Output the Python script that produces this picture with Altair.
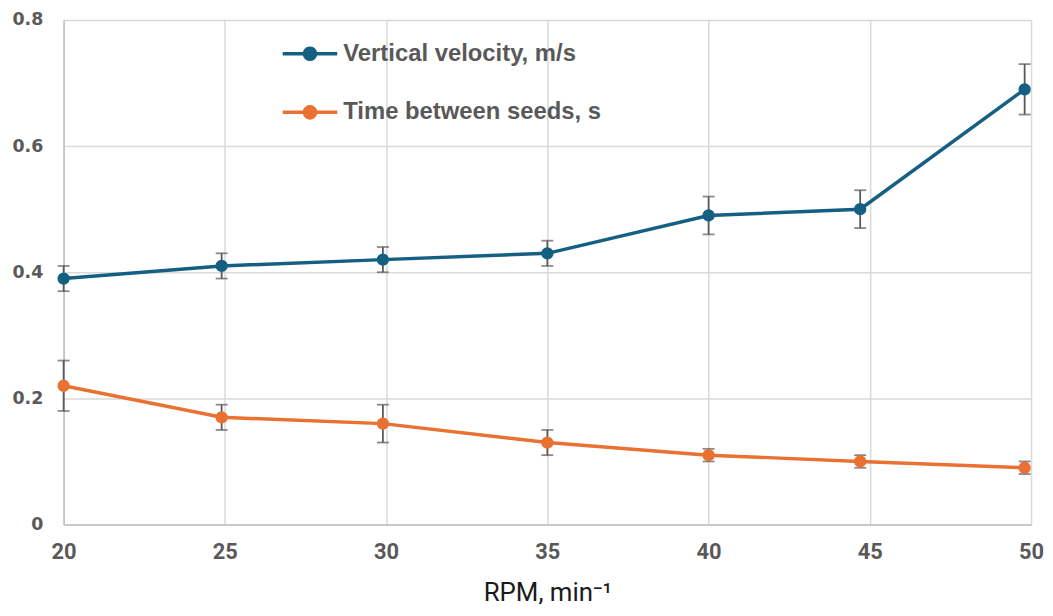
import math
import altair as alt
import pandas as pd

rpm = [20, 24.9, 29.9, 35, 40, 44.7, 49.8]
velocity = [0.39, 0.41, 0.42, 0.43, 0.49, 0.50, 0.69]
velocity_err = [0.02, 0.02, 0.02, 0.02, 0.03, 0.03, 0.04]
time_seeds = [0.22, 0.17, 0.16, 0.13, 0.11, 0.10, 0.09]
time_err = [0.04, 0.02, 0.03, 0.02, 0.01, 0.01, 0.01]
series_names = ["Vertical velocity, m/s", "Time between seeds, s"]
series_colors = ["#156082", "#E97132"]
x_ticks = [20, 25, 30, 35, 40, 45, 50]
y_ticks = [0, 0.2, 0.4, 0.6, 0.8]

rows = []
for name, vals, errs in [(series_names[0], velocity, velocity_err),
                         (series_names[1], time_seeds, time_err)]:
    for x, v, e in zip(rpm, vals, errs):
        rows.append({"series": name, "rpm": x, "value": v, "lo": v - e, "hi": v + e})
df = pd.DataFrame(rows)


def ring(r, n=20):
    pts = [(r * math.cos(2 * math.pi * k / n), r * math.sin(2 * math.pi * k / n)) for k in range(n)]
    return "M" + "L".join(f"{px:.3f},{py:.3f}" for px, py in pts) + "Z"


# legend glyph: a line with a dot (dot drawn as concentric stroked rings)
legend_path = "M-1.96,0L1.96,0" + "".join(ring(r) for r in (0.1, 0.2, 0.3, 0.4))

scale = alt.Scale(domain=series_names, range=series_colors)
legend = alt.Legend(title=None, orient="none", legendX=232, legendY=18, padding=0,
                    symbolType=legend_path, symbolSize=784,
                    symbolStrokeWidth=3.5, symbolOpacity=1,
                    labelFont="Liberation Sans", labelFontSize=24, labelFontWeight="bold",
                    labelColor="#595959", labelOffset=17.5, labelLimit=400,
                    rowPadding=30)

x_enc = alt.X("rpm:Q", scale=alt.Scale(domain=[20, 50], nice=False),
              axis=alt.Axis(values=x_ticks, title="RPM, min⁻¹", grid=True, labelFlush=False))
y_enc = alt.Y("value:Q", scale=alt.Scale(domain=[0, 0.8], nice=False),
              axis=alt.Axis(values=y_ticks, title=None, grid=True, format="~g"))

base = alt.Chart(df)

lines = base.mark_line(strokeWidth=3.5).encode(
    x=x_enc, y=y_enc,
    color=alt.Color("series:N", scale=scale, sort=series_names, legend=legend),
    detail="series:N")
err_rule = base.mark_rule(color="#595959", strokeWidth=1.8).encode(
    x="rpm:Q", y="lo:Q", y2="hi:Q")
cap_hi = base.mark_tick(color="#595959", thickness=1.8, size=12, orient="horizontal").encode(
    x="rpm:Q", y="hi:Q")
cap_lo = base.mark_tick(color="#595959", thickness=1.8, size=12, orient="horizontal").encode(
    x="rpm:Q", y="lo:Q")
points = base.mark_circle(size=154, opacity=1).encode(
    x="rpm:Q", y="value:Q",
    color=alt.Color("series:N", scale=scale, sort=series_names, legend=None))

chart = alt.layer(lines, err_rule, cap_hi, cap_lo, points).properties(
    width=974, height=508,
    autosize=alt.AutoSizeParams(type="none"),
    padding={"left": 56, "top": 10, "right": 14, "bottom": 82},
).configure_view(stroke=None).configure_axis(
    gridColor="#D9D9D9", gridWidth=1.5, ticks=False,
    domain=True, domainColor="#BFBFBF", domainWidth=1.5,
).configure_axisX(
    labelFont="Roboto", labelFontSize=22, labelFontWeight="bold", labelColor="#595959",
    labelPadding=17,
    titleFont="Roboto", titleFontSize=26, titleFontWeight="normal", titleColor="#1a1a1a",
    titleBaseline="alphabetic", titleY=76,
).configure_axisY(
    labelFont="DejaVu Sans", labelFontSize=17.5, labelFontWeight="bold", labelColor="#595959",
    labelPadding=21,
)

chart.save("out.html", embed_options={"renderer": "svg", "actions": False})
